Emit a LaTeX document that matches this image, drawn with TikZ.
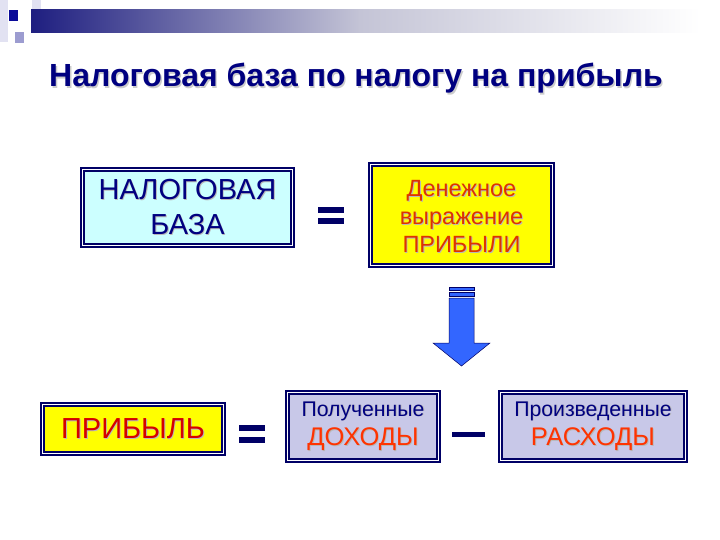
\documentclass[tikz,border=0pt]{standalone}
\usepackage{fontspec}
\setmainfont{Liberation Sans}
\usetikzlibrary{shadings}
\definecolor{navy}{HTML}{000080}
\definecolor{frameblue}{HTML}{000066}
\definecolor{cyanfill}{HTML}{CCFFFF}
\definecolor{yellowfill}{HTML}{FFFF00}
\definecolor{lavfill}{HTML}{C8C8E8}
\definecolor{redA}{HTML}{D40000}
\definecolor{redB}{HTML}{DD3300}
\definecolor{redC}{HTML}{FF3300}
\definecolor{arrowblue}{HTML}{3366FF}
\definecolor{barnavy}{HTML}{1E1E80}
\definecolor{barmid}{HTML}{C4C4D6}
\definecolor{sqlight}{HTML}{E2E2F2}
\definecolor{sqmid}{HTML}{9C9CD0}
\definecolor{sqdark}{HTML}{0A0A99}
\definecolor{shadowgray}{HTML}{B8B8B8}
\tikzset{
  framebox/.style={draw=frameblue, line width=2.2pt, double=white, double distance=1pt, inner sep=0pt},
  eqbar/.style={fill=frameblue, draw=none},
  boxtxt/.style={inner sep=0pt, align=center},
  shd/.style={text=shadowgray, shift={(0.9pt,-0.9pt)}},
  bigtxt/.style={font=\fontsize{29}{35}\selectfont},
  prtxt/.style={font=\fontsize{29}{35}\selectfont},
  midtxt/.style={font=\fontsize{23.5}{28}\selectfont},
  smalltxt/.style={font=\fontsize{21.2}{24}\selectfont},
  redtxt/.style={font=\fontsize{25.5}{28}\selectfont},
  titletxt/.style={font=\bfseries\fontsize{32}{38}\selectfont, inner sep=0pt},
}
\begin{document}
\begin{tikzpicture}[x=1pt,y=-1pt]
\useasboundingbox (0,0) rectangle (720,540);
\fill[white] (0,0) rectangle (720,540);
% header decoration
\fill[sqlight] (0,0) rectangle (8,42);
\fill[sqlight] (32,0) rectangle (41,22);
\shade[left color=barnavy, right color=barmid] (31,10) rectangle (360,33);
\shade[left color=barmid, right color=white] (359.5,10) rectangle (700,33);
\fill[sqdark] (9,10) rectangle (18,21);
\fill[sqmid] (15,32) rectangle (24,43);
% title
\node[titletxt, text=gray!40] (titleshadow) at (357.3,79.8) {Налоговая база по налогу на прибыль};
\node[titletxt, text=navy] (title) at (356,78.5) {Налоговая база по налогу на прибыль};
% boxes
\node[framebox, fill=cyanfill, minimum width=210pt, minimum height=76pt] (base) at (187.5,207.5) {};
\node[framebox, fill=yellowfill, minimum width=182pt, minimum height=101pt] (money) at (461.5,215) {};
\node[framebox, fill=yellowfill, minimum width=181pt, minimum height=49pt] (profit) at (133,429) {};
\node[framebox, fill=lavfill, minimum width=151pt, minimum height=68pt] (income) at (363,426.5) {};
\node[framebox, fill=lavfill, minimum width=185pt, minimum height=68pt] (costs) at (593,426.5) {};
% box texts (shadow, then text)
\node[boxtxt, bigtxt, shd] (baseS) at (base.center) {НАЛОГОВАЯ\\БАЗА};
\node[boxtxt, bigtxt, text=navy] (baseT) at (base.center) {НАЛОГОВАЯ\\БАЗА};
\node[boxtxt, midtxt, shd] (moneyS) at ([yshift=-2pt]money.center) {Денежное\\выражение\\ПРИБЫЛИ};
\node[boxtxt, midtxt, text=redB] (moneyT) at ([yshift=-2pt]money.center) {Денежное\\выражение\\ПРИБЫЛИ};
\node[boxtxt, prtxt, shd] (profitS) at (profit.center) {ПРИБЫЛЬ};
\node[boxtxt, prtxt, text=redA] (profitT) at (profit.center) {ПРИБЫЛЬ};
\node[boxtxt, smalltxt, shd] (incomeAS) at (363,411) {Полученные};
\node[boxtxt, smalltxt, text=navy] (incomeA) at (363,411) {Полученные};
\node[boxtxt, redtxt, shd] (incomeBS) at (363,439) {ДОХОДЫ};
\node[boxtxt, redtxt, text=redC] (incomeB) at (363,439) {ДОХОДЫ};
\node[boxtxt, smalltxt, shd] (costsAS) at (593,411) {Произведенные};
\node[boxtxt, smalltxt, text=navy] (costsA) at (593,411) {Произведенные};
\node[boxtxt, redtxt, shd] (costsBS) at (593,439) {РАСХОДЫ};
\node[boxtxt, redtxt, text=redC] (costsB) at (593,439) {РАСХОДЫ};
% equals signs and minus
\fill[eqbar] (318,207) rectangle (344,213);
\fill[eqbar] (318,218) rectangle (344,224);
\fill[eqbar] (239,425) rectangle (265,431);
\fill[eqbar] (239,437) rectangle (265,443);
\fill[eqbar] (452,432) rectangle (485,437);
% down arrow
\filldraw[fill=arrowblue, draw=frameblue, line width=0.5pt] (449,287) rectangle (474,290);
\filldraw[fill=arrowblue, draw=frameblue, line width=0.5pt] (449,292.5) rectangle (474,296);
\filldraw[fill=arrowblue, draw=frameblue, line width=0.5pt]
  (449,298) -- (474,298) -- (474,343) -- (490,343) -- (461.5,366) -- (433,343) -- (449,343) -- cycle;
\end{tikzpicture}
\end{document}
